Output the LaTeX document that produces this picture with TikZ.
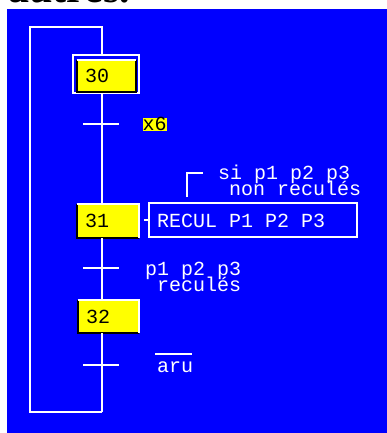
\documentclass[tikz,border=0pt]{standalone}
\usepackage{fontspec}
\usetikzlibrary{calc}
\newfontfamily\pixfont{Liberation Mono}
\newfontfamily\headfont{Liberation Serif}
\definecolor{scrblue}{RGB}{0,0,255}
\definecolor{stepyellow}{RGB}{255,255,0}
\begin{document}
\begin{tikzpicture}[x=1pt,y=-1pt,
  wire/.style={draw=white, line width=1.5pt},
  shade/.style={draw=black, line width=1.5pt},
  pix/.style={font=\pixfont\fontsize{20}{20}\selectfont},
  lbl/.style={pix, text=white, inner sep=0pt, anchor=base west},
  stepbox/.style={pix, fill=stepyellow, text=black, inner sep=0pt, inner xsep=8pt,
    align=left, text height=13pt, text depth=0pt},
  actbox/.style={draw=white, line width=1.5pt, inner sep=0pt}]
\useasboundingbox (0,0) rectangle (387,433);
% heading remnant above the screen
\begin{scope}
  \clip (0,0) rectangle (387,9);
  \node[font=\headfont\bfseries\fontsize{42}{42}\selectfont, inner sep=0pt, anchor=base west] (head) at (8,3) {autres.};
\end{scope}
% screen
\fill[scrblue] (7,9) rectangle (387,433);
% loop corners
\coordinate (ctl) at (30,27);
\coordinate (ctr) at (102,27);
\coordinate (cbl) at (30,412);
\coordinate (cbr) at (102,412);
% steps
\node[draw=white, line width=1.5pt, minimum width=66pt, minimum height=38pt, inner sep=0pt] (s30o) at (106,74) {};
\node[stepbox, minimum width=59pt, minimum height=32pt, text width=43pt] (s30) at (106.5,76) {30};
\node[stepbox, minimum width=62pt, minimum height=34pt, text width=46pt] (s31) at (108,221) {31};
\node[stepbox, minimum width=61pt, minimum height=33pt, text width=45pt] (s32) at (108.5,316.5) {32};
% step edges
\draw[shade] (s30.north west) -- (s30.south west) -- (s30.south east) -- (s30.north east);
\draw[wire] (s30.north west) -- (s30.north east);
\draw[shade] (s31.north west) -- (s31.south west) -- (s31.south east);
\draw[wire] (s31.north west) -- (s31.north east) -- (s31.south east);
\draw[shade] (s32.north west) -- (s32.south west) -- (s32.south east);
\draw[wire] (s32.north west) -- (s32.north east) -- (s32.south east);
% main line and loop
\draw[wire] (cbr) -- (cbl) -- (ctl) -- (ctr) -- (ctr |- s30o.north);
\draw[wire] (s30o.south -| ctr) -- (s31.north -| ctr);
\draw[wire] (s31.south -| ctr) -- (s32.north -| ctr);
\draw[wire] (s32.south -| ctr) -- (cbr);
% transitions
\coordinate (t1) at (101,124);
\coordinate (t2) at (101,268);
\coordinate (t3) at (101,365);
\foreach \t in {t1,t2,t3}
  \draw[wire] ($(\t)+(-18,0)$) -- ($(\t)+(18,0)$);
% receptivities
\node[pix, fill=stepyellow, text=black, inner sep=0pt, minimum width=23pt, minimum height=13pt,
  text height=11pt, text depth=0pt] (x6) at (154.5,124.5) {x6};
\node[lbl] (r2a) at (145,275) {p1 p2 p3};
\node[lbl] (r2b) at (157,291) {reculés};
\node[lbl] (r3) at (157,372) {aru};
\coordinate (ov1) at (155,354);
\coordinate (ov2) at (192,354);
\draw[wire, line width=1.3pt] (ov1) -- (ov2);
% action of step 31
\node[actbox, minimum width=208pt, minimum height=34pt] (a31) at (253,220) {};
\node[lbl] (a31t) at (157,227) {RECUL P1 P2 P3};
\coordinate (c31) at (144,220);
\draw[wire] (c31) -- (a31.west);
% condition bracket
\coordinate (b1) at (187,197);
\coordinate (b2) at (203,173);
\draw[wire] (b1) |- (b2);
\node[lbl] (cond1) at (218,179) {si p1 p2 p3};
\node[lbl] (cond2) at (229,195) {non reculés};
\end{tikzpicture}
\end{document}
